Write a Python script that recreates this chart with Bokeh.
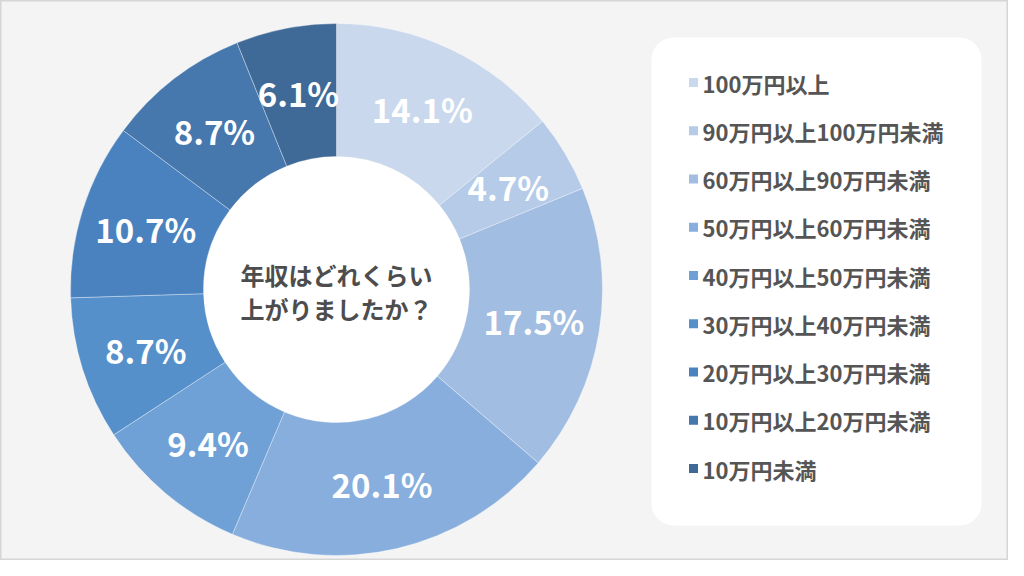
import math
from bokeh.plotting import figure
from bokeh.models import ColumnDataSource
from bokeh.core.properties import value
from bokeh.embed import file_html
from bokeh.resources import INLINE

# ---- data ----
categories = ["100万円以上", "90万円以上100万円未満", "60万円以上90万円未満",
              "50万円以上60万円未満", "40万円以上50万円未満", "30万円以上40万円未満",
              "20万円以上30万円未満", "10万円以上20万円未満", "10万円未満"]
percents = [14.1, 4.7, 17.5, 20.1, 9.4, 8.7, 10.7, 8.7, 6.1]
colors = ["#c9d8ec", "#b6cbe8", "#a2bde2", "#87aedd", "#6fa0d6",
          "#5690cb", "#4a82bf", "#4677ad", "#3f6a97"]
center_lines = ["年収はどれくらい", "上がりましたか？"]

W, H = 1008, 560
JP = "Noto Sans CJK JP"

p = figure(width=W, height=H, x_range=(0, W), y_range=(0, H),
           output_backend="svg", toolbar_location=None, min_border=0,
           background_fill_color="#f4f4f4", border_fill_color="#f4f4f4")
p.axis.visible = False
p.grid.visible = False
p.outline_line_color = "#d6d6d6"
p.outline_line_width = 2

# screen (reference pixel) -> data helpers
def X(sx):
    return sx

def Y(sy):
    return H - sy

cx, cy = X(336), Y(289)
R_out, R_in = 266, 133

total = sum(percents)
starts, ends, mids = [], [], []
acc = 0.0
for v in percents:
    a0 = math.pi / 2 - 2 * math.pi * acc / total
    acc += v
    a1 = math.pi / 2 - 2 * math.pi * acc / total
    starts.append(a0)
    ends.append(a1)
    mids.append((a0 + a1) / 2)

# white hole
p.scatter(x=[cx], y=[cy], size=2 * R_in, marker="circle", fill_color="white", line_color=None)

src = ColumnDataSource(dict(start=starts, end=ends, color=colors))
p.annular_wedge(x=cx, y=cy, inner_radius=R_in, outer_radius=R_out,
                start_angle="start", end_angle="end", direction="clock",
                fill_color="color", line_color="white", line_alpha=0.35,
                line_width=1, source=src)

r_lab = 200
lab_src = ColumnDataSource(dict(
    x=[cx + r_lab * math.cos(m) for m in mids],
    y=[cy + r_lab * math.sin(m) for m in mids],
    t=[f"{v:.1f}%" for v in percents]))
p.text(x="x", y="y", text="t", source=lab_src, text_color="white",
       text_font=value(JP), text_font_style="bold", text_font_size="33px",
       text_align="center", text_baseline="middle")

# center text
p.text(x=[cx, cx], y=[Y(274), Y(308)], text=center_lines, text_color="#4d4d4d",
       text_font=value(JP), text_font_style="bold", text_font_size="24px",
       text_align="center", text_baseline="middle")

# legend box
bx0, bx1, by0, by1 = 651, 981, 37, 525
p.rect(x=[X((bx0 + bx1) / 2)], y=[Y((by0 + by1) / 2)], width=bx1 - bx0,
       height=by1 - by0, fill_color="white", line_color=None, border_radius=22)

leg_top, leg_step = 82, 48.25
ly = [Y(leg_top + i * leg_step) for i in range(len(categories))]
p.scatter(x=[X(693)] * len(categories), y=ly, marker="square", size=9,
          fill_color=colors, line_color=None)
p.text(x=[X(702)] * len(categories), y=ly, text=categories, text_color="#555555",
       text_font=value(JP), text_font_style="bold", text_font_size="22px",
       text_align="left", text_baseline="middle")

open("out.html", "w").write(file_html(p, INLINE))
